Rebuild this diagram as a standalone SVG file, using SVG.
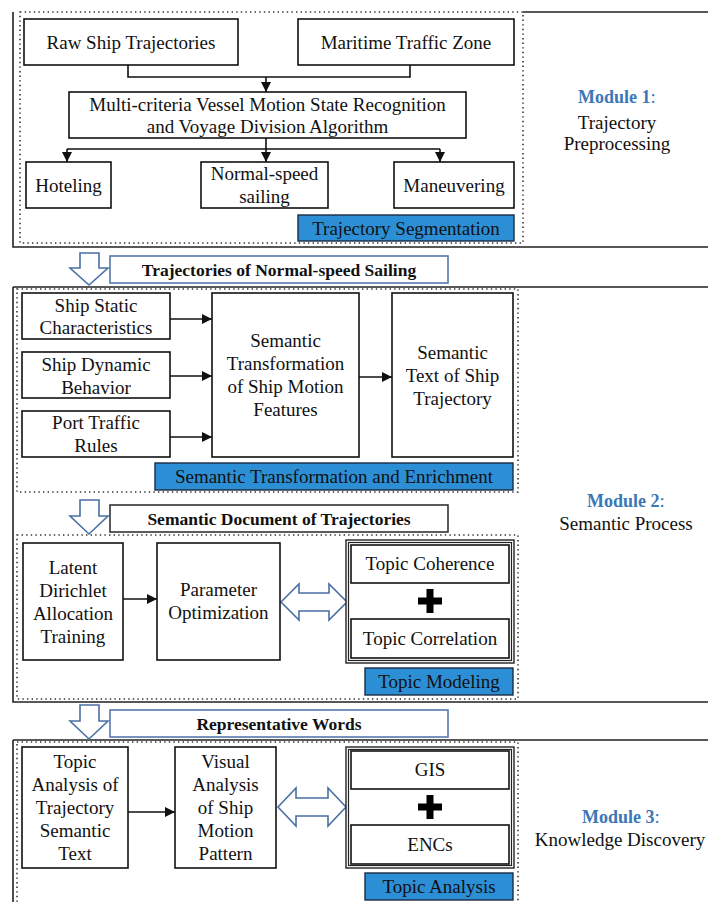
<svg xmlns="http://www.w3.org/2000/svg" width="708" height="902" viewBox="0 0 708 902">
<defs>
<style>
text{font-family:"Liberation Serif","Times New Roman",serif;font-size:19px;fill:#111;text-anchor:middle}
.b{font-weight:bold;font-size:17.5px}
.m{font-weight:bold;font-size:18px;fill:#3b78b8}
.box{fill:#fff;stroke:#111;stroke-width:1.6}
.blue{fill:#2c8fd6;stroke:#1a2a40;stroke-width:1.4}
.frame{fill:none;stroke:#222;stroke-width:1.6}
.dot{fill:none;stroke:#333;stroke-width:1.6;stroke-dasharray:1.4 3.2}
.hol{fill:#fff;stroke:#4a6fa5;stroke-width:1.6;stroke-linejoin:miter}
.lbl{fill:#fff;stroke:#5577aa;stroke-width:1.6}
.lbld{fill:#fff;stroke:#333;stroke-width:1.6}
.con{fill:none;stroke:#111;stroke-width:1.6}
.plus{stroke:#000;stroke-width:7}
</style>
<marker id="ah" viewBox="0 0 10 10" refX="10" refY="5" markerWidth="10" markerHeight="10" markerUnits="userSpaceOnUse" orient="auto">
<path d="M0,0 L10,5 L0,10 Z" fill="#111"/>
</marker>
</defs>
<rect width="708" height="902" fill="#fff"/>

<g id="frames">
<path class="frame" d="M523,12 H708 M13,12 V247 H708"/>
<rect class="dot" x="20" y="12" width="503" height="231"/>
<path class="frame" d="M13,287 H708 M13,287 V702 H708"/>
<rect class="dot" x="17" y="289" width="501" height="203"/>
<rect class="dot" x="17" y="535" width="501" height="164"/>
<path class="frame" d="M13,740 H708 M13,740 V905"/>
<rect class="dot" x="17" y="742" width="501" height="170"/>
</g>

<g id="connectors">
<path class="con" d="M128,65 V77 H410 V65"/>
<path class="con" d="M266,77 V92" marker-end="url(#ah)"/>
<path class="con" d="M266,138 V149 M67,149 H440"/>
<path class="con" d="M67,149 V162" marker-end="url(#ah)"/>
<path class="con" d="M266,149 V162" marker-end="url(#ah)"/>
<path class="con" d="M440,149 V162" marker-end="url(#ah)"/>
<path class="con" d="M170,319 H212" marker-end="url(#ah)"/>
<path class="con" d="M170,376 H212" marker-end="url(#ah)"/>
<path class="con" d="M170,437 H212" marker-end="url(#ah)"/>
<path class="con" d="M359,377 H392" marker-end="url(#ah)"/>
<path class="con" d="M123,599 H157" marker-end="url(#ah)"/>
<path class="con" d="M128,812 H175" marker-end="url(#ah)"/>
<path class="hol" d="M80,253 H99 V268 H108 L89,285 L70,268 H80 Z"/>
<path class="hol" d="M80,500 H99 V516 H108 L89,534 L70,516 H80 Z"/>
<path class="hol" d="M80,705 H99 V721 H108 L89,739 L70,721 H80 Z"/>
<path class="hol" d="M281,602 L299,584 V593 H329 V584 L347,602 L329,620 V611 H299 V620 Z"/>
<path class="hol" d="M278,807 L296,788 V798 H328 V788 L346,807 L328,826 V816 H296 V826 Z"/>
</g>

<g id="raw"><rect class="box" x="24" y="19" width="214" height="46"/><text x="131" y="48.5">Raw Ship Trajectories</text></g>
<g id="zone"><rect class="box" x="298" y="19" width="216" height="46"/><text x="406" y="48.5">Maritime Traffic Zone</text></g>
<g id="algo"><rect class="box" x="69" y="92" width="397" height="46"/><text x="267.5" y="110.5">Multi-criteria Vessel Motion State Recognition</text><text x="267.5" y="132.5">and Voyage Division Algorithm</text></g>
<g id="hoteling"><rect class="box" x="26" y="162" width="85" height="46"/><text x="68.5" y="191.5">Hoteling</text></g>
<g id="normal"><rect class="box" x="201" y="162" width="127" height="46"/><text x="264.5" y="179.5">Normal-speed</text><text x="264.5" y="203">sailing</text></g>
<g id="maneuvering"><rect class="box" x="394" y="162" width="120" height="46"/><text x="454" y="191.5">Maneuvering</text></g>
<g id="seg"><rect class="blue" x="298" y="215" width="216" height="26"/><text x="406" y="234.5">Trajectory Segmentation</text></g>
<g id="mod1"><text x="617" y="103"><tspan class="m">Module 1</tspan><tspan fill="#3b78b8">:</tspan></text><text x="617" y="128.5">Trajectory</text><text x="617" y="150">Preprocessing</text></g>

<g id="lbl1"><rect class="lbl" x="110" y="256" width="338" height="27"/><text class="b" x="279" y="276">Trajectories of Normal-speed Sailing</text></g>

<g id="static"><rect class="box" x="22" y="293" width="148" height="46"/><text x="96" y="311.5">Ship Static</text><text x="96" y="334">Characteristics</text></g>
<g id="dynamic"><rect class="box" x="22" y="352" width="148" height="46"/><text x="96" y="370.5">Ship Dynamic</text><text x="96" y="393.5">Behavior</text></g>
<g id="rules"><rect class="box" x="22" y="411" width="148" height="46"/><text x="96" y="428.5">Port Traffic</text><text x="96" y="451.5">Rules</text></g>
<g id="transform"><rect class="box" x="212" y="293" width="147" height="164"/><text x="285.5" y="346.5">Semantic</text><text x="285.5" y="369.5">Transformation</text><text x="285.5" y="392.5">of Ship Motion</text><text x="285.5" y="416">Features</text></g>
<g id="semtext"><rect class="box" x="392" y="293" width="121" height="164"/><text x="452.5" y="358.5">Semantic</text><text x="452.5" y="381.5">Text of Ship</text><text x="452.5" y="404.5">Trajectory</text></g>
<g id="enrich"><rect class="blue" x="155" y="463" width="358" height="27"/><text x="334" y="483">Semantic Transformation and Enrichment</text></g>
<g id="mod2"><text x="626" y="507"><tspan class="m">Module 2</tspan><tspan fill="#3b78b8">:</tspan></text><text x="626" y="529.5">Semantic Process</text></g>

<g id="lbl2"><rect class="lbld" x="110" y="505" width="338" height="27"/><text class="b" x="279" y="524.5">Semantic Document of Trajectories</text></g>

<g id="lda"><rect class="box" x="23" y="543" width="100" height="117"/><text x="73" y="573.5">Latent</text><text x="73" y="596.5">Dirichlet</text><text x="73" y="619.5">Allocation</text><text x="73" y="642.5">Training</text></g>
<g id="param"><rect class="box" x="157" y="543" width="123" height="117"/><text x="218.5" y="595.5">Parameter</text><text x="218.5" y="619">Optimization</text></g>
<g id="eval">
<rect fill="#fff" stroke="#222" stroke-width="1.4" x="346" y="540" width="168" height="123"/>
<rect fill="none" stroke="#222" stroke-width="1.2" x="348.5" y="542.5" width="163" height="118"/>
<rect class="box" x="351" y="545" width="158" height="38"/><text x="430" y="570">Topic Coherence</text>
<path class="plus" d="M418,601 H442 M430,589 V613"/>
<rect class="box" x="351" y="619" width="158" height="39"/><text x="430" y="645">Topic Correlation</text>
</g>
<g id="modeling"><rect class="blue" x="365" y="668" width="148" height="27"/><text x="439" y="688">Topic Modeling</text></g>

<g id="lbl3"><rect class="lbl" x="110" y="710" width="338" height="27"/><text class="b" x="279" y="729.5">Representative Words</text></g>

<g id="topicanalysis"><rect class="box" x="22" y="747" width="106" height="121"/><text x="75" y="767.5">Topic</text><text x="75" y="790.5">Analysis of</text><text x="75" y="813.5">Trajectory</text><text x="75" y="837">Semantic</text><text x="75" y="860">Text</text></g>
<g id="visual"><rect class="box" x="175" y="747" width="101" height="121"/><text x="225.5" y="767.5">Visual</text><text x="225.5" y="790.5">Analysis</text><text x="225.5" y="813.5">of Ship</text><text x="225.5" y="837">Motion</text><text x="225.5" y="860">Pattern</text></g>
<g id="tools">
<rect fill="#fff" stroke="#222" stroke-width="1.4" x="346" y="747" width="168" height="121"/>
<rect fill="none" stroke="#222" stroke-width="1.2" x="348.5" y="749.5" width="163" height="116"/>
<rect class="box" x="351" y="751" width="158" height="38"/><text x="430" y="776">GIS</text>
<path class="plus" d="M418,807 H442 M430,795 V819"/>
<rect class="box" x="351" y="825" width="158" height="39"/><text x="430" y="851">ENCs</text>
</g>
<g id="topicana"><rect class="blue" x="365" y="873" width="148" height="27"/><text x="439" y="893">Topic Analysis</text></g>
<g id="mod3"><text x="621" y="823"><tspan class="m">Module 3</tspan><tspan fill="#3b78b8">:</tspan></text><text x="620" y="846">Knowledge Discovery</text></g>
</svg>
